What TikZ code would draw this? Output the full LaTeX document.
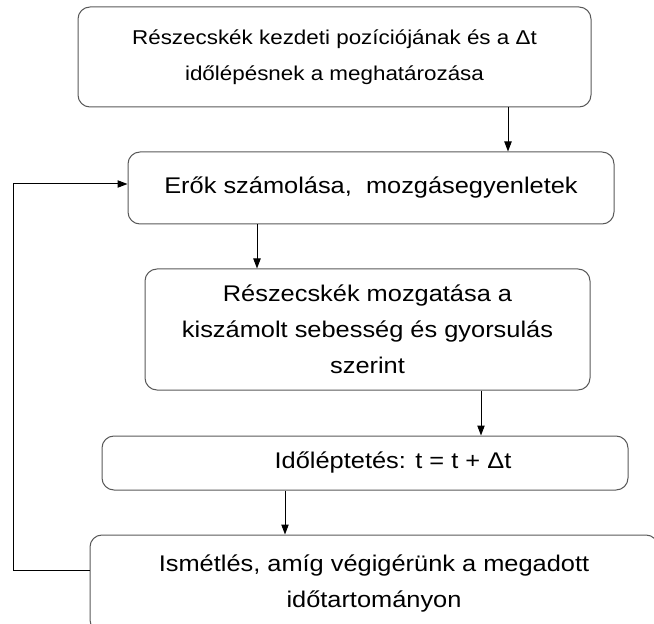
\documentclass[tikz,border=0pt]{standalone}
\usepackage{fontspec}
\setmainfont[FakeStretch=1.12]{Liberation Sans}
\usetikzlibrary{arrows.meta,calc}
\tikzset{
    lepes/.style={
        rectangle,
        rounded corners=9pt,
        draw=black!65,
        line width=0.75pt,
        align=center,
        inner sep=0pt,
        font=\fontsize{17}{27}\selectfont,
    },
    flow/.style={
        draw,
        -{Triangle[length=7.5pt,width=5.5pt]},
        line width=0.75pt,
    },
}

\begin{document}
\begin{tikzpicture}[x=0.75pt,y=-0.75pt]
                \useasboundingbox (0,0) rectangle (654,624);
                \clip (0,0) rectangle (654,624);

                \node [lepes, font=\fontsize{15}{27}\selectfont, minimum width=384.75pt, minimum height=75pt] (B1) at (334.5,57)
                    {Részecskék kezdeti pozíciójának és a Δt\\időlépésnek a meghatározása};

                \node [lepes, minimum width=364.5pt, minimum height=54pt] (B2) at (371,188)
                    {Erők számolása,\ \ mozgásegyenletek};

                \node [lepes, minimum width=333.75pt, minimum height=90.75pt] (B3) at (367.5,329.5)
                    {Részecskék mozgatása a\\kiszámolt sebesség és gyorsulás\\szerint};

                \node [lepes, minimum width=394.5pt, minimum height=40.5pt] (B4) at (365,463)
                    {\hspace*{42pt}Időléptetés: t = t + Δt};

                \node [lepes, minimum width=426pt, minimum height=72.75pt] (B5) at (374,583.5)
                    {Ismétlés, amíg végigérünk a megadott\\időtartományon};

                \coordinate (a1) at ($(B1.south)+(173.5,0)$);
                \coordinate (a2) at ($(B2.south)+(-114,0)$);
                \coordinate (a3) at ($(B3.south)+(113.5,0)$);
                \coordinate (a4) at ($(B4.south)+(-80,0)$);
                \draw [flow] (a1) -- (a1 |- B2.north);
                \draw [flow] (a2) -- (a2 |- B3.north);
                \draw [flow] (a3) -- (a3 |- B4.north);
                \draw [flow] (a4) -- (a4 |- B5.north);

                % vissza a ciklus elejere
                \coordinate (ki) at ($(B5.west)+(0,-13.5)$);
                \coordinate (be) at ($(B2.west)+(0,-4)$);
                \draw [flow] (ki) -| ($(be)+(-114,0)$) -- (be);
\end{tikzpicture}
\end{document}
